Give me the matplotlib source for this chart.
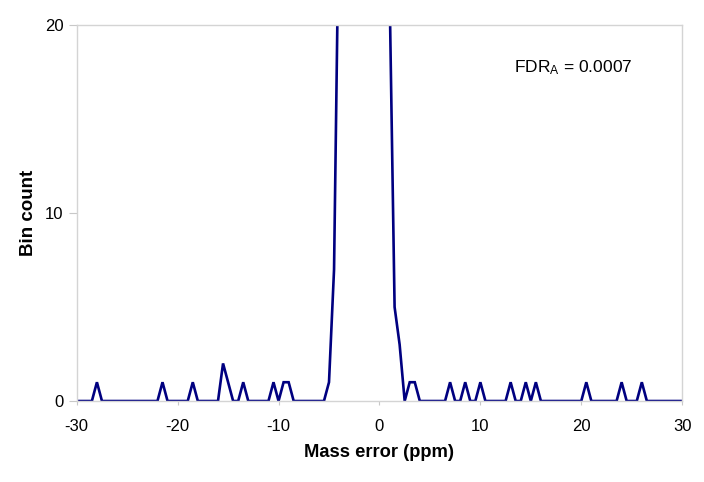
import numpy as np
import matplotlib
matplotlib.use("Agg")
import matplotlib.pyplot as plt

# ─── Data ─────────────────────────────────────────────────────────────────────

# histogram bins of 0.5 ppm from -30 to 30
bin_step = 0.5
bin_lo, bin_hi = -30, 30

# bins with a nonzero count (all other bins are 0)
peak_ppm = [-28.0, -21.5, -18.5, -15.5, -15.0, -13.5, -10.5, -9.5, -9.0,
            -5.0, -4.5, -4.0, -3.5, -3.0, -2.5, -2.0, -1.5, -1.0, -0.5,
            0.0, 0.5, 1.0, 1.5, 2.0, 3.0, 3.5,
            7.0, 8.5, 10.0, 13.0, 14.5, 15.5, 20.5, 24.0, 26.0]
peak_count = [1, 1, 1, 2, 1, 1, 1, 1, 1,
              1, 7, 27, 85, 190, 320, 410, 430, 370, 260,
              150, 70, 22, 5, 3, 1, 1,
              1, 1, 1, 1, 1, 1, 1, 1, 1]

fdr_label = r"FDR$_{\mathrm{A}}$ = 0.0007"

# ─── Plot ─────────────────────────────────────────────────────────────────────

plt.rcParams['font.family'] = ['Liberation Sans', 'DejaVu Sans']
plt.rcParams['mathtext.fontset'] = 'custom'
plt.rcParams['mathtext.rm'] = 'Liberation Sans'
plt.rcParams['mathtext.it'] = 'Liberation Sans:italic'
plt.rcParams['axes.unicode_minus'] = False

bins = np.arange(bin_lo, bin_hi + bin_step / 2, bin_step)
counts = np.zeros_like(bins)
for p, c in zip(peak_ppm, peak_count):
    counts[np.argmin(np.abs(bins - p))] = c

fig = plt.figure(figsize=(7.04, 4.82), dpi=100)
ax = fig.add_axes([0.109, 0.168, 0.860, 0.780])

ax.plot(bins, counts, color='#000080', linewidth=1.9, solid_joinstyle='miter')

ax.set_xlim(-30, 30)
ax.set_ylim(0, 20)
ax.set_xticks(range(-30, 31, 10))
ax.set_yticks([0, 10, 20])

for s in ax.spines.values():
    s.set_color('#d4d4d4')
    s.set_linewidth(1.0)
ax.tick_params(axis='both', direction='out', color='#c8c8c8',
               labelsize=12, labelcolor='black')
ax.tick_params(axis='x', length=3, pad=10)
ax.tick_params(axis='y', length=5.5, pad=4)

ax.set_xlabel("Mass error (ppm)", fontsize=13.2, fontweight='bold', labelpad=7.5)
ax.set_ylabel("Bin count", fontsize=13.5, fontweight='bold', labelpad=6)

ax.text(13.3, 17.5, fdr_label, fontsize=12.5, ha='left', va='baseline')

fig.savefig("out.png", dpi=100)
